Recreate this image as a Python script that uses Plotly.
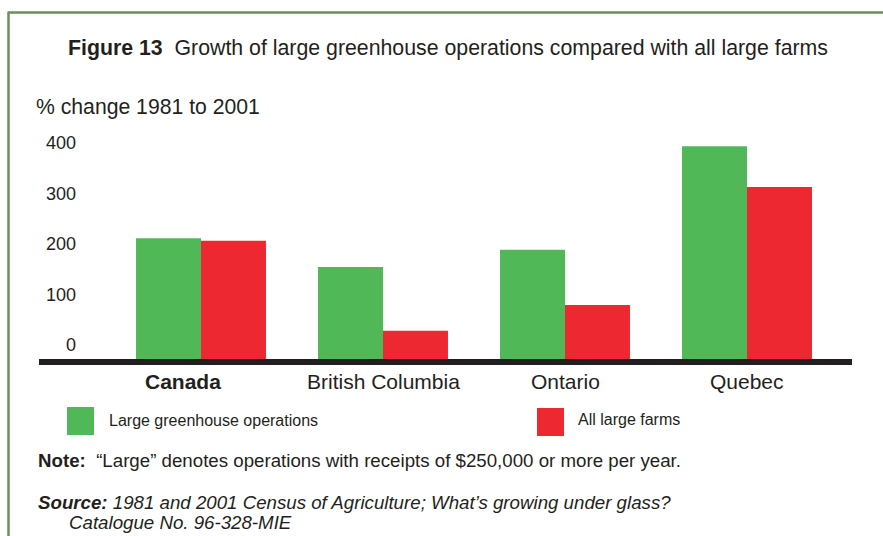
import plotly.graph_objects as go

# Growth of large greenhouse operations vs all large farms, % change 1981 to 2001
regions = ["Canada", "British Columbia", "Ontario", "Quebec"]
region_labels = ["<b>Canada</b>", "British Columbia", "Ontario", "Quebec"]
greenhouse = [211, 154, 188, 393]
all_farms = [206, 28, 79, 312]
series_names = ["Large greenhouse operations", "All large farms"]
y_ticks = [0, 100, 200, 300, 400]

GREEN = "#50b857"
RED = "#ed2830"
TEXT = "#231f20"
BORDER = "#6b8f58"
FONT = "Liberation Sans, Arial, sans-serif"

W, H = 883, 536
L, R, T, B = 39, 31, 130, 177
FLOOR = -28  # bars rise from the heavy baseline drawn below the zero label
Y_TOP = 425
PW, PH = W - L - R, H - T - B
LABEL_SHIFT = [-18, 0, 0, 0]  # horizontal nudge of the region labels, px


def px(x):
    return (x - L) / PW


def py(y):
    return (H - B - y) / PH


fig = go.Figure()
for name, vals, col in [(series_names[0], greenhouse, GREEN),
                        (series_names[1], all_farms, RED)]:
    fig.add_trace(go.Bar(
        x=regions, y=[v - FLOOR for v in vals], base=FLOOR,
        name=name, marker=dict(color=col, line=dict(width=0)),
        customdata=vals, hovertemplate="%{x}: %{customdata}%<extra>" + name + "</extra>",
    ))

slot = 182
left_off = (201 - L) / slot
fig.update_layout(
    width=W, height=H,
    margin=dict(l=L, r=R, t=T, b=B),
    paper_bgcolor="white", plot_bgcolor="white",
    barmode="group", bargap=0.286, bargroupgap=0,
    showlegend=False,
    font=dict(family=FONT, color=TEXT),
    xaxis=dict(
        range=[-left_off, -left_off + PW / slot],
        tickmode="array", tickvals=regions, ticktext=[""] * len(regions),
        showline=True, linecolor="#231f20", linewidth=6,
        showgrid=False, zeroline=False, ticks="", fixedrange=True,
    ),
    yaxis=dict(
        range=[FLOOR, Y_TOP], anchor="free", position=px(76),
        tickmode="array", tickvals=y_ticks, ticktext=[str(v) for v in y_ticks],
        tickfont=dict(size=18, color=TEXT),
        showline=False, showgrid=False, zeroline=False, ticks="", fixedrange=True,
    ),
)

ann = []
for reg, lab, dx in zip(regions, region_labels, LABEL_SHIFT):
    ann.append(dict(text=lab, x=reg, xref="x", y=py(381), yref="paper",
                    xanchor="center", yanchor="middle", xshift=dx,
                    font=dict(size=21)))
ann.append(dict(text="<b>Figure 13</b>\u00a0\u00a0Growth of large greenhouse operations compared with all large farms",
                x=px(66), y=py(48), xanchor="left", yanchor="middle", font=dict(size=21.3)))
ann.append(dict(text="% change 1981 to 2001", x=px(34), y=py(107),
                xanchor="left", yanchor="middle", font=dict(size=21.2)))
ann.append(dict(text=series_names[0], x=px(107), y=py(420),
                xanchor="left", yanchor="middle", font=dict(size=16)))
ann.append(dict(text=series_names[1], x=px(576), y=py(419),
                xanchor="left", yanchor="middle", font=dict(size=16)))
ann.append(dict(text="<b>Note:</b>\u00a0\u00a0\u201cLarge\u201d denotes operations with receipts of $250,000 or more per year.",
                x=px(36), y=py(460), xanchor="left", yanchor="middle", font=dict(size=18.7)))
ann.append(dict(text="<b><i>Source:</i></b><i> 1981 and 2001 Census of Agriculture; What\u2019s growing under glass?</i>",
                x=px(36), y=py(502), xanchor="left", yanchor="middle", font=dict(size=18.7)))
ann.append(dict(text="<i>Catalogue No. 96-328-MIE</i>",
                x=px(67), y=py(522), xanchor="left", yanchor="middle", font=dict(size=18.7)))
for a in ann:
    a.setdefault("xref", "paper")
    a.setdefault("yref", "paper")
    a.update(showarrow=False)
fig.update_layout(annotations=ann)

shapes = [
    # legend swatches
    dict(type="rect", x0=px(67), x1=px(94), y0=py(435), y1=py(407),
         fillcolor=GREEN, line=dict(width=0)),
    dict(type="rect", x0=px(537), x1=px(564), y0=py(436), y1=py(408),
         fillcolor=RED, line=dict(width=0)),
    # frame
    dict(type="line", x0=px(8.5), x1=px(8.5), y0=py(12.5), y1=py(540),
         line=dict(color=BORDER, width=2.5)),
    dict(type="line", x0=px(7.5), x1=px(890), y0=py(12.5), y1=py(12.5),
         line=dict(color=BORDER, width=2.5)),
]
for s in shapes:
    s.update(xref="paper", yref="paper")
fig.update_layout(shapes=shapes)

fig.write_html("out.html")
